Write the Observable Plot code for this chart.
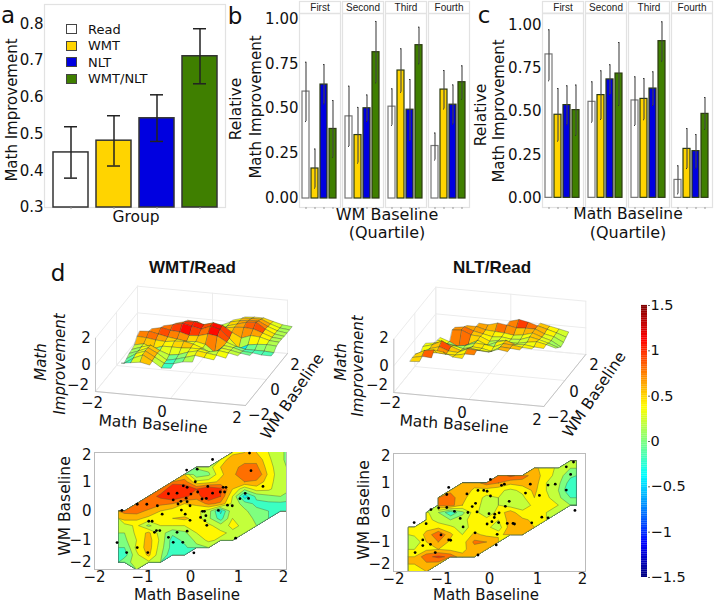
<!DOCTYPE html>
<html>
<head>
<meta charset="utf-8">
<script src="https://cdn.jsdelivr.net/npm/d3@7"></script>
<script src="https://cdn.jsdelivr.net/npm/@observablehq/plot@0.6"></script>
<style>
html,body{margin:0;padding:0;background:#fff}
#chart{position:relative;width:714px;height:603px;overflow:hidden;font-family:"DejaVu Sans",sans-serif;color:#111}
#chart svg{position:absolute;background:transparent;overflow:visible}
.t{position:absolute;white-space:pre;line-height:1;transform:translate(-50%,-50%)}
.sw{position:absolute;width:9px;height:8px;border:1.3px solid #444}
</style>
</head>
<body>
<div id="chart"></div>
<script>
const N = NaN;
const groups = ["Read", "WMT", "NLT", "WMT/NLT"];
const groupColors = ["#ffffff", "#ffd400", "#0000e0", "#3f7f00"];
const quartiles = ["First", "Second", "Third", "Fourth"];

const overallMean = [0.45, 0.482, 0.543, 0.712];
const overallLow = [0.38, 0.413, 0.48, 0.637];
const overallHigh = [0.52, 0.55, 0.607, 0.787];

const wmMean = [0.595,0.167,0.634,0.387, 0.457,0.353,0.502,0.814, 0.511,0.712,0.494,0.853, 0.292,0.606,0.522,0.647];
const wmLow  = [0.428,0.058,0.526,0.229, 0.29,0.197,0.428,0.643, 0.407,0.591,0.322,0.749, 0.214,0.498,0.414,0.552];
const wmHigh = [0.758,0.275,0.745,0.545, 0.625,0.507,0.576,0.985, 0.61,0.833,0.662,0.953, 0.364,0.712,0.632,0.738];

const mathMean = [0.832,0.482,0.538,0.509, 0.557,0.596,0.687,0.721, 0.565,0.574,0.634,0.909, 0.104,0.284,0.271,0.487];
const mathLow  = [0.679,0.329,0.424,0.362, 0.439,0.455,0.6,0.536, 0.42,0.453,0.536,0.793, 0.023,0.17,0.172,0.397];
const mathHigh = [0.975,0.634,0.65,0.654, 0.673,0.737,0.772,0.901, 0.702,0.692,0.731,1.021, 0.186,0.402,0.367,0.582];

// Gridded improvement estimates, rows from WM baseline 2 down to -2 in steps of 0.25
const wmtXStart = -1.375, nltXStart = -1.565;
const wmtGrid = [
 N,N,N,N,N,N,N,N,N,.45,.5,.5,.3,.12,.05,
 N,N,N,N,N,N,N,N,.4,.6,.65,.65,.35,.12,.05,
 N,N,N,N,N,N,.15,.2,.5,.65,.75,.75,.4,.15,.05,
 N,N,N,N,N,.5,-.05,.05,.45,.65,.85,.9,.45,.15,.05,
 N,N,N,N,.85,.8,.35,.4,.55,.65,.7,.65,.4,.15,.1,
 N,N,N,.8,1,1.05,.9,1.1,.95,.5,.15,.4,.35,.15,.1,
 N,N,.8,.95,1.1,.95,.8,1.1,.9,.3,-.4,-.05,.05,.1,.05,
 N,.75,.9,.75,.7,.5,.55,.75,.65,.25,0,-.15,-.15,-.15,-.2,
 .75,.8,.65,.5,.4,.3,.35,.2,-.35,.25,.15,-.05,-.1,-.2,-.2,
 .6,.55,.45,.4,.5,.55,.4,.15,-.2,.3,.2,.05,-.05,N,N,
 .2,.35,.05,.3,.3,.3,.35,.35,.2,.35,.25,.1,N,N,N,
 .1,.35,.55,.2,-.05,.05,.3,.45,.35,.25,.1,N,N,N,N,
 .05,.3,.6,.25,-.2,-.05,.15,.35,.25,.15,N,N,N,N,N,
 -.1,.35,.6,.2,-.2,-.15,.05,.1,N,N,N,N,N,N,N,
 -.2,.25,.55,.15,-.3,-.25,N,N,N,N,N,N,N,N,N,
 .05,.15,.25,.1,N,N,N,N,N,N,N,N,N,N,N,
 N,.1,N,N,N,N,N,N,N,N,N,N,N,N,N
];
const nltGrid = [
 N,N,N,N,N,N,N,N,N,N,N,N,N,N,
 N,N,N,N,N,N,N,N,N,N,N,N,N,.2,
 N,N,N,N,N,N,N,N,N,N,.55,.4,.25,.1,
 N,N,N,N,N,N,N,.75,.95,.8,.6,.4,.2,-.05,
 N,N,N,N,.65,.6,.8,.7,.55,.6,.6,.3,.15,-.2,
 N,N,N,.65,.65,.45,.4,.35,.25,.35,.55,.3,.1,-.3,
 N,N,.7,.8,.55,.4,.25,.3,.2,.25,.5,.35,.15,-.1,
 N,N,.75,.8,.5,.45,.15,.3,.2,.2,.35,.45,.3,.1,
 N,.35,.1,-.25,.05,.4,.1,.4,.6,.35,.4,.3,.25,N,
 N,.4,.2,.1,.2,.45,.4,.3,.6,.55,.45,.4,N,N,
 .35,.45,.45,.35,.2,.4,.35,.2,.6,.55,.5,N,N,N,
 .35,.55,.9,.55,.3,.55,.45,.4,.65,.55,N,N,N,N,
 .1,.5,.7,.45,.4,.75,.7,.65,N,N,N,N,N,N,
 .3,.45,.5,.45,.45,.6,.6,N,N,N,N,N,N,N,
 .5,.85,.95,.85,.55,.5,N,N,N,N,N,N,N,N,
 .5,.65,.6,N,N,N,N,N,N,N,N,N,N,N,
 .45,.5,N,N,N,N,N,N,N,N,N,N,N,N
];

const wmtDotX = [-1.43,-1.53,-1.11,-.91,-.69,-1.33,-1.11,-.89,-.87,-.8,-.75,-.71,-.64,-.59,-.46,-.36,-.28,-.16,-.07,-.01,.07,-.46,-.28,-.36,-.26,-.2,-.15,-.07,-.08,.14,.1,.46,1.23,1.26,1.51,.36,.46,.15,.01,-.09,-.07,-.01,-.19,-.11,.24,.33,.21,.25,.29,.32,.3,.34,.58,.62,.68,.74,.71,.77,.87,1.03,1.14,1.21,.94];
const wmtDotY = [.02,-1.08,.23,.23,.18,-1.42,-1.25,-1.42,-.35,-.35,-.73,-.67,-.67,-.11,-.9,-1.07,-.73,-1.07,-.69,-.32,-1.43,.59,.61,.38,.24,.33,.86,.81,1.4,1.43,1,1.76,1.98,1.38,.84,.84,.61,.65,.58,.44,.32,.18,.03,-.11,.41,.43,-.22,-.01,-.01,-.16,-.33,-.49,.02,.65,.81,.81,.65,.2,.18,.42,.6,.43,-.93];
const nltDotX = [-1.57,-1.32,-1.39,-1.39,-1.55,-1.23,-1.13,-1.22,-1.06,-.89,-.73,-.89,-.85,-.61,-.55,-.45,-.47,-.36,-.29,-.26,-.24,-.12,-.05,.02,.02,.41,.25,.31,.85,.75,1.04,1.22,1.37,1.6,1.75,1.69,1.6,1.78,1.09,1.22,.88,-.01,.11,.2,.1,.05,-.05,.19,.33,.37,.49,.52,.16,.14,-.3,-.85,-.81,-1.01,-.24];
const nltDotY = [-.34,-.38,-.93,-1.12,-1.36,-1.08,-1.36,.1,.16,.17,.04,.61,.85,-.2,-.49,0,.63,.2,.31,.02,.75,.75,.72,1.12,.56,.38,.92,.96,.96,.66,.58,.93,.96,1.55,1.71,1.29,.76,.07,-.16,-.18,-.35,-.04,-.06,-.01,-.17,-.31,-.39,-.34,.21,-.37,-.37,-.39,-.74,-1.1,-.69,-.93,-.94,-.76,-1.44];

const jetDomain = [-1.5,-1.125,-.375,0,.375,1.125,1.5];
const jetColors = ["#00007f","#0000ff","#00ffff","#7fff7f","#ffff00","#ff0000","#7f0000"];
const contourLevels = [-1.5,-1.3,-1.1,-.9,-.7,-.5,-.3,-.1,.1,.3,.5,.7,.9,1.1,1.3];
const colorbarTicks = [-1.5,-1,-.5,0,.5,1,1.5];
const colorbarSteps = d3.range(-1.5, 1.5, 0.02);
const cubeTicks = [-2,0,2];

const root = document.getElementById("chart");
const jet = {type:"linear", domain:jetDomain, range:jetColors, clamp:true, interpolate:"rgb"};
const F = '"DejaVu Sans",sans-serif';

function place(svg, left, top){ svg.style.left = left+"px"; svg.style.top = top+"px"; root.appendChild(svg); }
function label(text, x, y, o={}){
  const d = document.createElement("div"); d.className = "t"; d.textContent = text;
  d.style.left = x+"px"; d.style.top = y+"px"; d.style.fontSize = (o.size||15)+"px";
  if(o.rotate) d.style.transform = `translate(-50%,-50%) rotate(${o.rotate}deg)`;
  if(o.italic) d.style.fontStyle = "oblique";
  if(o.bold){ d.style.fontWeight = "bold"; d.style.fontFamily = '"Liberation Sans",sans-serif'; }
  root.appendChild(d);
}

// Panel a
const overall = groups.map((g,i)=>({g, m:overallMean[i], lo:overallLow[i], hi:overallHigh[i]}));
place(Plot.plot({
  width:230, height:212, marginLeft:44, marginRight:5, marginTop:4, marginBottom:5,
  style:{fontFamily:F, fontSize:"15px", color:"#111"},
  x:{domain:groups, padding:0.19, label:null},
  y:{domain:[0.3,0.853], label:null},
  color:{domain:groups, range:groupColors},
  marks:[
    Plot.frame({stroke:"#e2e2e2", strokeWidth:1.2}),
    Plot.barY(overall,{x:"g", y1:()=>0.3, y2:"m", fill:"g", stroke:"#333", strokeWidth:1.5}),
    Plot.ruleX(overall,{x:"g", y1:"lo", y2:"hi", stroke:"#222", strokeWidth:1.5}),
    Plot.tickY(overall,{x:"g", y:"lo", stroke:"#222", strokeWidth:1.5, insetLeft:11, insetRight:11}),
    Plot.tickY(overall,{x:"g", y:"hi", stroke:"#222", strokeWidth:1.5, insetLeft:11, insetRight:11}),
    Plot.axisY({ticks:[.3,.4,.5,.6,.7,.8], tickSize:0, tickPadding:1, tickFormat:".1f", label:null}),
    Plot.axisX({tickSize:2, stroke:"#999", tickFormat:()=>"", label:null})
  ]
}),0,0);
label("Math Improvement",12,110,{rotate:-90,size:15});
label("Group",136,218,{size:15.5});
groups.forEach((g,i)=>{
  const s = document.createElement("div"); s.className="sw"; s.style.left="65.5px";
  s.style.top=[24,40.5,57,73.5][i]+"px"; s.style.background=groupColors[i]; root.appendChild(s);
  const t = document.createElement("div"); t.className="t"; t.textContent=g; t.style.fontSize="13px";
  t.style.left="88px"; t.style.top=[28.5,45,61.5,78][i]+"px"; t.style.transform="translate(0,-50%)"; root.appendChild(t);
});
label("a",8,15,{size:23}); label("b",235,15.5,{size:23}); label("c",484,15,{size:23}); label("d",58,273,{size:23});

// Panels b, c
function facetPanel(means, lows, highs, left, plotLeft, plotRight, yDomain){
  const rows = means.map((m,i)=>({q:quartiles[Math.floor(i/4)], g:groups[i%4], m, lo:lows[i], hi:highs[i]}));
  const strips = quartiles.map(q=>({q}));
  const stripEdge = yDomain[2], top = yDomain[1];
  return place(Plot.plot({
    width:plotRight-left+1, height:212, marginLeft:plotLeft-left, marginRight:1, marginTop:1, marginBottom:5,
    style:{fontFamily:F, fontSize:"15px", color:"#111"},
    fx:{domain:quartiles, paddingInner:0.05, paddingOuter:0, axis:null, label:null},
    x:{domain:groups, padding:0.2, axis:null, label:null},
    y:{domain:[yDomain[0],top], label:null},
    color:{domain:groups, range:groupColors},
    marks:[
      Plot.frame({stroke:"#e2e2e2", strokeWidth:1.2}),
      Plot.ruleY(strips,{fx:"q", y:()=>stripEdge, stroke:"#e2e2e2", strokeWidth:1.6}),
      Plot.text(strips,{fx:"q", y:()=>(stripEdge+top)/2, text:"q", fontSize:10, fontFamily:'"Liberation Sans",sans-serif', fill:"#222"}),
      Plot.barY(rows,{fx:"q", x:"g", y:"m", fill:"g", stroke:d=>d.g==="Read"?"#777":"#2c3a12", strokeWidth:1.2}),
      Plot.ruleX(rows,{fx:"q", x:"g", y1:"lo", y2:"hi", stroke:"#444", strokeWidth:1.1}),
      Plot.tickY(rows,{fx:"q", x:"g", y:"lo", stroke:"#333", strokeWidth:1, insetLeft:3, insetRight:3}),
      Plot.tickY(rows,{fx:"q", x:"g", y:"hi", stroke:"#333", strokeWidth:1, insetLeft:3, insetRight:3}),
      Plot.axisY({ticks:[0,.25,.5,.75,1], tickSize:0, tickPadding:1, tickFormat:".2f", label:null}),
      Plot.axisX({tickSize:2, stroke:"#999", tickFormat:()=>"", label:null})
    ]
  }),left,0);
}
facetPanel(wmMean, wmLow, wmHigh, 225, 298, 469, [-0.05,1.096,1.029]);
facetPanel(mathMean, mathLow, mathHigh, 475, 541, 712, [-0.056,1.139,1.07]);
label("Relative",237,109,{rotate:-90,size:15.5});
label("Math Improvement",256,107,{rotate:-90,size:15});
label("WM Baseline",387,215,{size:16});
label("(Quartile)",387,233,{size:16});
label("Relative",482,115,{rotate:-90,size:15.5});
label("Math Improvement",499,111,{rotate:-90,size:15});
label("Math Baseline",628,215,{size:15.5});
label("(Quartile)",628,233,{size:16});

// Panel d: contour maps
function contourMap(grid, xStart, dotX, dotY, left, top, w, h){
  const cols = grid.length/17;
  const dots = dotX.map((x,i)=>({x, y:dotY[i]}));
  const sx = d3.scaleLinear([-2,2],[30,30+w]), sy = d3.scaleLinear([-2,2],[1+h,1]);
  // d3.contours leaves the empty grid nodes unfilled; rings come back in grid units
  const bands = d3.contours().size([cols,17]).thresholds(contourLevels)(grid).map(c=>({
    ...c, coordinates:c.coordinates.map(poly=>poly.map(ring=>ring.map(([i,j])=>[xStart+(i-.5)*.25, 2-(j-.5)*.25])))
  }));
  const view = d3.geoTransform({point(x,y){ this.stream.point(sx(x),sy(y)); }});
  const dims = {width:w+32, height:h+28, marginLeft:30, marginRight:2, marginTop:1, marginBottom:27};
  place(Plot.plot({
    ...dims,
    style:{fontFamily:F, fontSize:"15px", color:"#111"},
    x:{domain:[-2,2], label:null},
    y:{domain:[-2,2], label:null},
    marks:[
      Plot.axisY({ticks:[-1,0,1], tickFormat:"d", tickSize:0, tickPadding:3, label:null}),
      Plot.axisY([2],{tickFormat:"d", tickSize:0, tickPadding:3, dy:3, label:null}),
      Plot.axisY([-2],{tickFormat:"d", tickSize:0, tickPadding:3, dy:-7, label:null}),
      Plot.axisX({ticks:[-2,-1,0,1], tickFormat:"d", tickSize:0, tickPadding:2, label:null}),
      Plot.axisX([2],{tickFormat:"d", tickSize:0, tickPadding:2, dx:-3, label:null}),
      Plot.frame({stroke:"#bbb", strokeWidth:1})
    ]
  }),left-30,top-1);
  place(Plot.plot({
    ...dims,
    projection:view,
    color:jet,
    marks:[
      Plot.geo(bands,{fill:d=>d.value+.1, stroke:"#4a5a3a", strokeWidth:.4, clip:true}),
      Plot.dot(dots,{x:"x", y:"y", r:1.4, fill:"#000"})
    ]
  }),left-30,top-1);
}
contourMap(wmtGrid, wmtXStart, wmtDotX, wmtDotY, 94.3, 452, 192, 117);
contourMap(nltGrid, nltXStart, nltDotX, nltDotY, 393.3, 453, 192, 118);
label("WM Baseline",66,506,{rotate:-90,size:15.5});
label("Math Baseline",187,595,{size:15});
label("WM Baseline",365,510,{rotate:-90,size:15.5});
label("Math Baseline",486,595,{size:15});

// Panel d: surfaces, real x/y/z projected by an oblique view of the cube
function surface(grid, xStart, ox, oy){
  const cols = grid.length/17, cells = [];
  const xAt = i=>xStart+.25*i, yAt = j=>2-.25*j;
  const val = (i,j)=>grid[j*cols+i];
  for(let j=0;j<16;j++) for(let i=0;i<cols-1;i++){
    const q = [[i,j],[i+1,j],[i+1,j+1],[i,j+1]];
    const vs = q.map(([a,b])=>val(a,b));
    if(vs.some(Number.isNaN)) continue;
    const ring = q.map(([a,b])=>[xAt(a),yAt(b),val(a,b)]);
    ring.push(ring[0]);
    const mx = xAt(i)+.125, my = yAt(j)-.125;
    cells.push({type:"Feature", z:vs[0], depth:(mx+2)/4*14-(my+2)/4*52,
      geometry:{type:"Polygon", coordinates:[ring]}});
  }
  cells.sort((a,b)=>a.depth-b.depth);
  const view = d3.geoTransform({point(x,y,z){
    this.stream.point(ox+(x+2)/4*150+(y+2)/4*42, oy+(x+2)/4*14-(y+2)/4*52-(z+2)/4*53.3);
  }});
  const line = coords=>({type:"LineString", coordinates:coords});
  const faint = [], strong = [
    line([[-2,-2,-2],[2,-2,-2]]), line([[2,-2,-2],[2,2,-2]]), line([[-2,-2,-2],[-2,-2,2]])
  ];
  for(const t of cubeTicks){
    faint.push(line([[t,-2,-2],[t,2,-2]]), line([[-2,t,-2],[2,t,-2]]));
    faint.push(line([[-2,-2,t],[-2,2,t]]), line([[-2,2,t],[2,2,t]]));
    faint.push(line([[-2,t,-2],[-2,t,2]]), line([[t,2,-2],[t,2,2]]));
  }
  place(Plot.plot({
    width:714, height:603, margin:0,
    projection:view,
    color:jet,
    marks:[
      Plot.geo(faint,{stroke:"#ececec", strokeWidth:1}),
      Plot.geo(strong,{stroke:"#c4c4c4", strokeWidth:1}),
      Plot.geo(cells,{fill:d=>d.z, stroke:"#33402a", strokeWidth:.4, strokeOpacity:.85})
    ]
  }),0,0);
}
surface(wmtGrid, wmtXStart, 95, 391);
surface(nltGrid, nltXStart, 393.3, 392);

label("WMT/Read",192.5,267,{bold:true,size:17});
label("NLT/Read",492,267,{bold:true,size:17});
label("Math",41,362,{rotate:-90,italic:true,size:15});
label("Improvement",60,364,{rotate:-90,italic:true,size:15});
label("Math",341,362,{rotate:-90,italic:true,size:15});
label("Improvement",358,366,{rotate:-90,italic:true,size:15});
for(const [t,x,y] of [["2",86,338],["0",86,365],["−2",78,385],["−2",92,403],["0",162,412],["2",237,418],["−2",259,415],["0",275,390],["2",295,365],
                      ["2",384,338],["0",384,366],["−2",377,385],["−2",390,403],["0",462,413],["2",537,420],["−2",558,417],["0",574,392],["2",594,365]])
  label(t,x,y,{size:15});
label("Math Baseline",153,425,{rotate:4,size:15.5});
label("WM Baseline",293,397,{rotate:-56,size:15.5});
label("Math Baseline",454,425,{rotate:4,size:15.5});
label("WM Baseline",595,395,{rotate:-56,size:15.5});

// Colorbar
place(Plot.plot({
  width:70, height:274, marginLeft:0, marginRight:64, marginTop:1, marginBottom:1,
  style:{fontFamily:F, fontSize:"14.5px", color:"#111"},
  x:{axis:null, domain:[0,1]},
  y:{domain:[-1.5,1.5], label:null},
  color:jet,
  marks:[
    Plot.rect(colorbarSteps,{x1:()=>0, x2:()=>1, y1:d=>d, y2:d=>d+.021, fill:d=>d+.01}),
    Plot.axisY(colorbarTicks,{anchor:"right", tickSize:2, tickPadding:1, stroke:"#666", tickFormat:d=>d3.format("")(d).replace("-","−"), label:null})
  ]
}),640.5,304);
</script>
</body>
</html>
